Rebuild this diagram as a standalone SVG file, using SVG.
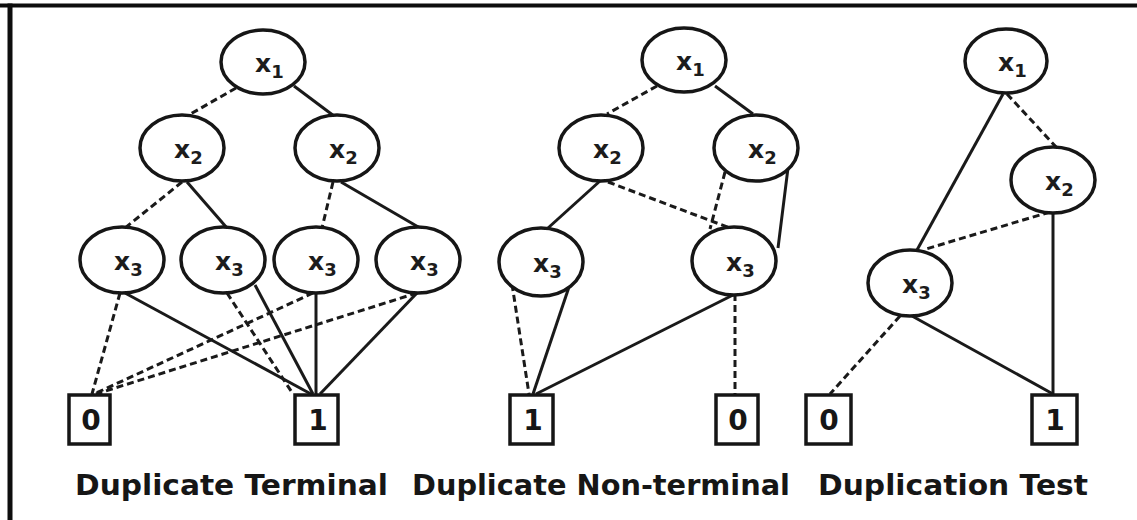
<svg xmlns="http://www.w3.org/2000/svg" width="1137" height="520" viewBox="0 0 1137 520">
  <style>
    .node ellipse { fill: #fff; stroke: #161616; stroke-width: 3.5; }
    .term rect { fill: #fff; stroke: #161616; stroke-width: 3.5; }
    .var { font-family: "DejaVu Sans", Verdana, sans-serif; font-weight: bold; font-size: 25px; fill: #1c1c1c; }
    .sub { font-size: 18px; }
    .val { font-family: "DejaVu Sans", Verdana, sans-serif; font-weight: bold; font-size: 28px; fill: #161616; text-anchor: middle; }
    .caption { font-family: "DejaVu Sans", Verdana, sans-serif; font-weight: bold; font-size: 29px; fill: #161616; }
    .hi { stroke: #1a1a1a; stroke-width: 3; fill: none; }
    .lo { stroke: #1a1a1a; stroke-width: 3; fill: none; stroke-dasharray: 7 4; }
  </style>

  <!-- frame: top and left rules -->
  <g id="frame" fill="#0d0d0d">
    <rect x="0" y="3.5" width="1137" height="4"/>
    <rect x="7.5" y="3.5" width="5" height="516.5"/>
  </g>

  <!-- connectors: solid = high edge, dashed = low edge -->
  <g id="connectors">
    <!-- Duplicate Terminal -->
    <line class="lo" x1="236" y1="88" x2="187" y2="116"/>
    <line class="hi" x1="294" y1="86" x2="334" y2="116"/>
    <line class="lo" x1="182" y1="182" x2="125" y2="228"/>
    <line class="hi" x1="187" y1="182" x2="227" y2="228"/>
    <line class="lo" x1="333" y1="182" x2="322" y2="228"/>
    <line class="hi" x1="341" y1="182" x2="420" y2="228"/>
    <line class="lo" x1="120" y1="293" x2="92" y2="394"/>
    <line class="hi" x1="125" y1="293" x2="311" y2="394"/>
    <line class="lo" x1="227" y1="293" x2="293" y2="394"/>
    <line class="hi" x1="255" y1="285" x2="313" y2="394"/>
    <line class="lo" x1="313" y1="293" x2="94" y2="394"/>
    <line class="hi" x1="316" y1="293" x2="316" y2="394"/>
    <line class="lo" x1="417" y1="293" x2="96" y2="394"/>
    <line class="hi" x1="417" y1="293" x2="320" y2="394"/>

    <!-- Duplicate Non-terminal -->
    <line class="lo" x1="657" y1="86" x2="607" y2="114"/>
    <line class="hi" x1="715" y1="86" x2="753" y2="114"/>
    <line class="hi" x1="600" y1="181" x2="548" y2="228"/>
    <line class="lo" x1="608" y1="182" x2="730" y2="228"/>
    <line class="lo" x1="725" y1="172" x2="710" y2="229"/>
    <line class="hi" x1="788" y1="168" x2="778" y2="248"/>
    <line class="lo" x1="512" y1="284" x2="529" y2="394"/>
    <line class="hi" x1="570" y1="284" x2="533" y2="394"/>
    <line class="hi" x1="735" y1="294" x2="536" y2="394"/>
    <line class="lo" x1="735" y1="294" x2="735" y2="394"/>

    <!-- Duplication Test -->
    <line class="hi" x1="1003" y1="94" x2="917" y2="250"/>
    <line class="lo" x1="1007" y1="94" x2="1057" y2="148"/>
    <line class="lo" x1="1050" y1="212" x2="926" y2="249"/>
    <line class="hi" x1="1053" y1="213" x2="1053" y2="394"/>
    <line class="lo" x1="900" y1="316" x2="830" y2="394"/>
    <line class="hi" x1="912" y1="316" x2="1053" y2="394"/>
  </g>

  <!-- Duplicate Terminal -->
  <g id="dt-x1" class="node"><ellipse cx="263" cy="62" rx="42" ry="32"/><text class="var" x="255" y="72">x<tspan class="sub" dy="6">1</tspan></text></g>
  <g id="dt-x2a" class="node"><ellipse cx="182" cy="148" rx="42" ry="33"/><text class="var" x="174" y="158">x<tspan class="sub" dy="6">2</tspan></text></g>
  <g id="dt-x2b" class="node"><ellipse cx="337" cy="148" rx="42" ry="33"/><text class="var" x="329" y="158">x<tspan class="sub" dy="6">2</tspan></text></g>
  <g id="dt-x3a" class="node"><ellipse cx="122" cy="260" rx="42" ry="33"/><text class="var" x="114" y="270">x<tspan class="sub" dy="6">3</tspan></text></g>
  <g id="dt-x3b" class="node"><ellipse cx="223" cy="260" rx="42" ry="33"/><text class="var" x="215" y="270">x<tspan class="sub" dy="6">3</tspan></text></g>
  <g id="dt-x3c" class="node"><ellipse cx="316" cy="260" rx="42" ry="33"/><text class="var" x="308" y="270">x<tspan class="sub" dy="6">3</tspan></text></g>
  <g id="dt-x3d" class="node"><ellipse cx="418" cy="260" rx="42" ry="33"/><text class="var" x="410" y="270">x<tspan class="sub" dy="6">3</tspan></text></g>
  <g id="dt-t0" class="term"><rect x="69" y="395" width="41" height="49"/><text class="val" x="91" y="430">0</text></g>
  <g id="dt-t1" class="term"><rect x="295" y="395" width="43" height="49"/><text class="val" x="318" y="430">1</text></g>
  <text id="dt-caption" class="caption" x="75" y="495" textLength="313" lengthAdjust="spacingAndGlyphs">Duplicate Terminal</text>

  <!-- Duplicate Non-terminal -->
  <g id="dn-x1" class="node"><ellipse cx="684" cy="60" rx="42" ry="32"/><text class="var" x="676" y="70">x<tspan class="sub" dy="6">1</tspan></text></g>
  <g id="dn-x2a" class="node"><ellipse cx="601" cy="148" rx="42" ry="33"/><text class="var" x="593" y="158">x<tspan class="sub" dy="6">2</tspan></text></g>
  <g id="dn-x2b" class="node"><ellipse cx="756" cy="148" rx="42" ry="33"/><text class="var" x="748" y="158">x<tspan class="sub" dy="6">2</tspan></text></g>
  <g id="dn-x3a" class="node"><ellipse cx="541" cy="262" rx="42" ry="34"/><text class="var" x="533" y="272">x<tspan class="sub" dy="6">3</tspan></text></g>
  <g id="dn-x3b" class="node"><ellipse cx="734" cy="261" rx="42" ry="34"/><text class="var" x="726" y="271">x<tspan class="sub" dy="6">3</tspan></text></g>
  <g id="dn-t1" class="term"><rect x="510" y="395" width="43" height="49"/><text class="val" x="533" y="430">1</text></g>
  <g id="dn-t0" class="term"><rect x="716" y="395" width="42" height="49"/><text class="val" x="738" y="430">0</text></g>
  <text id="dn-caption" class="caption" x="412" y="495" textLength="378" lengthAdjust="spacingAndGlyphs">Duplicate Non-terminal</text>

  <!-- Duplication Test -->
  <g id="tt-x1" class="node"><ellipse cx="1006" cy="61" rx="41" ry="32"/><text class="var" x="998" y="71">x<tspan class="sub" dy="6">1</tspan></text></g>
  <g id="tt-x2" class="node"><ellipse cx="1053" cy="180" rx="42" ry="33"/><text class="var" x="1045" y="190">x<tspan class="sub" dy="6">2</tspan></text></g>
  <g id="tt-x3" class="node"><ellipse cx="910" cy="283" rx="42" ry="33"/><text class="var" x="902" y="293">x<tspan class="sub" dy="6">3</tspan></text></g>
  <g id="tt-t0" class="term"><rect x="806" y="395" width="45" height="49"/><text class="val" x="829" y="430">0</text></g>
  <g id="tt-t1" class="term"><rect x="1032" y="395" width="45" height="49"/><text class="val" x="1055" y="430">1</text></g>
  <text id="tt-caption" class="caption" x="818" y="495" textLength="270" lengthAdjust="spacingAndGlyphs">Duplication Test</text>
</svg>
